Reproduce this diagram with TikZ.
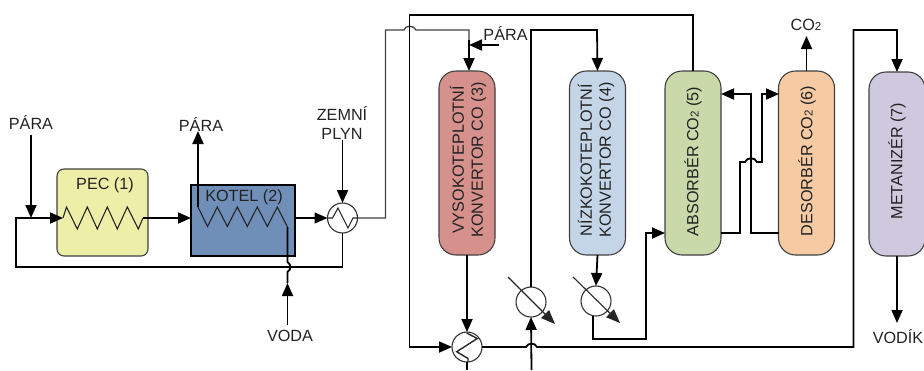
\documentclass[tikz,border=0pt]{standalone}
\usepackage{fontspec}
\setmainfont{Liberation Sans}
\usetikzlibrary{arrows.meta,calc}
\definecolor{txtc}{HTML}{222222}
\definecolor{pecc}{HTML}{EDEFA8}
\definecolor{kotc}{HTML}{6F8FB8}
\definecolor{v3c}{HTML}{D6918D}
\definecolor{v4c}{HTML}{C5D5E8}
\definecolor{v5c}{HTML}{C9D9A9}
\definecolor{v6c}{HTML}{F6CAA3}
\definecolor{v7c}{HTML}{CFC9DF}
\tikzset{
  flow/.style={line width=1.8pt,black,line join=miter},
  thinflow/.style={line width=1.3pt,black!75},
  arr/.style={-{Triangle[length=13pt,width=11pt]}},
  vessel/.style={draw=black!75,line width=1.1pt,rounded corners=17pt,minimum width=56pt,minimum height=184pt,inner sep=0pt,outer sep=0pt},
  hx/.style={circle,draw=black!80,fill=white,line width=1.1pt,minimum size=30pt,inner sep=0pt,outer sep=0pt},
  coil/.style={line width=1.1pt,black!85,line join=miter},
  lbl/.style={text=txtc,font=\fontsize{16.2}{19}\selectfont,inner sep=0pt,align=center},
  vlbl/.style={lbl,rotate=90},
}
\newcommand{\cotwo}{CO\raisebox{-0.3pt}{\fontsize{11.5}{11.5}\selectfont 2}}
\begin{document}
\begin{tikzpicture}[x=1pt,y=-1pt]
\useasboundingbox (0,0) rectangle (924,370);
\clip (0,0) rectangle (924,370);
% equipment
\node[draw=black!75,fill=pecc,line width=1.1pt,rounded corners=7pt,minimum width=91pt,minimum height=87pt,inner sep=0pt,outer sep=0pt] (pec) at (102.5,212.5) {};
\node[draw=black,fill=kotc,line width=1.8pt,minimum width=104pt,minimum height=71pt,inner sep=0pt,outer sep=0pt] (kotel) at (243,220.5) {};
\node[vessel,fill=v3c] (v3) at (467,163) {};
\node[vessel,fill=v4c] (v4) at (597.5,163) {};
\node[vessel,fill=v5c] (v5) at (693,163) {};
\node[vessel,fill=v6c] (v6) at (806.5,163) {};
\node[vessel,fill=v7c] (v7) at (897,164) {};
\node[hx] (hx1) at (342.5,218) {};
\node[hx] (hx3) at (467,347) {};
\node[hx] (hx2) at (531,302) {};
\node[hx] (hx4) at (596,301) {};
% labels
\node[lbl] (tpec) at (105,185) {PEC (1)};
\node[lbl] (tkot) at (244,197) {KOTEL (2)};
\node[vlbl] (t3) at (468,160) {VYSOKOTEPLOTNÍ\\KONVERTOR CO (3)};
\node[vlbl] (t4) at (596,160) {NÍZKOKOTEPLOTNÍ\\KONVERTOR CO (4)};
\node[vlbl] (t5) at (693,161.5) {ABSORBÉR \cotwo{} (5)};
\node[vlbl] (t6) at (807,161) {DESORBÉR \cotwo{} (6)};
\node[vlbl] (t7) at (897,161) {METANIZÉR (7)};
\node[lbl] (para1) at (31,122) {PÁRA};
\node[lbl] (para2) at (201,124) {PÁRA};
\node[lbl] (para3) at (505.5,33) {PÁRA};
\node[lbl] (zemni) at (342,123) {ZEMNÍ\\PLYN};
\node[lbl] (voda) at (290,336) {VODA};
\node[lbl] (co2) at (806,25) {\cotwo};
\node[lbl] (vodik) at (898,336.5) {VODÍK};
% named free ends and joins
\coordinate (p1s) at (31,135);
\coordinate (loopj) at (31,218);
\coordinate (kin) at (198,207);
\coordinate (kout) at (287.5,227);
\coordinate (vodas) at (287.5,325);
\coordinate (parajoin) at (469,45);
\coordinate (paras) at (499,45);
\coordinate (hx4o) at (593,316);
\coordinate (v5in) at (665,233);
\coordinate (v5out) at (721,233);
\coordinate (v6out) at (779,233);
\coordinate (v5r) at (721,94);
\coordinate (v6l) at (779,94);
\coordinate (bot2) at (531.5,370);
\coordinate (bot3) at (467,370);
\coordinate (pecl) at (63,218);
\coordinate (pecr) at (143,218);
% coils
\draw[coil] (pecl) -- (66.5,207) -- (77.3,229) -- (87.3,207) -- (97.3,229) -- (107.3,207) -- (117.3,229) -- (127.3,207) -- (138.3,229) -- (pecr);
\draw[coil] (kin) -- (207.5,226.5) -- (217.3,207) -- (227.3,226.5) -- (237.3,207) -- (247.3,226.5) -- (257.3,207) -- (267.3,226.5) -- (277.3,207) -- (kout);
\draw[coil] (hx1.west) -- (332.5,218) -- (338,208) -- (348,228) -- (353,218) -- (hx1.east);
% left section connectors
\draw[flow,arr] (p1s) -- (loopj);
\draw[flow,arr] (hx1.south) -- (342.5,267) -- (16,267) -- (16,218) -- (pecl);
\draw[flow,arr] (pecr) -- (kotel.west |- pecr);
\draw[thinflow,black,arr] (kotel.east |- hx1) -- (hx1.west);
\draw[flow,arr] (kin) -- (198,133) -- (198,131);
\draw[flow,arr] (zemni.south -| hx1) -- (hx1.north);
\draw[flow,arr] (vodas) -- (287.5,283);
\draw[flow] (287.5,283) -- (287.5,272) .. controls (291.5,269) and (291.5,265) .. (287.5,262) -- (kout);
% gas to HT convertor
\draw[thinflow] (hx1.east) -- (385.5,218) -- (385.5,30) -- (404,30) .. controls (405,25) and (414,25) .. (416,30) -- (469,30) -- (469,50);
\draw[flow,arr] (469,40) -- (v3.north -| 469,0);
\draw[flow,arr] (paras) -- (parajoin);
% HT convertor to exchanger
\draw[flow,arr] (v3.south) -- (hx3.north);
\draw[flow] (hx3.south) -- (bot3);
% top return loop
\draw[flow,arr] (v5.north) -- (693,15) -- (409.5,15) -- (409.5,347) -- (hx3.west);
% LT convertor feed
\draw[flow,arr] (hx2.north) -- (531,30) -- (597,30) -- (v4.north);
\draw[flow,arr] (bot2) -- (hx2.south);
% diagonal arrows
\draw[coil,-{Triangle[length=14pt,width=11pt]}] ($(hx2)+(-23,-25)$) -- ($(hx2)+(24,22)$);
\draw[coil,-{Triangle[length=14pt,width=11pt]}] ($(hx4)+(-23,-24)$) -- ($(hx4)+(24,22)$);
% LT convertor to absorber
\draw[flow,arr] (v4.south) -- (hx4.north);
\draw[flow,arr] (hx4o) -- (593,339) -- (646,339) -- (646,233) -- (v5in);
% absorber / desorber
\draw[flow,arr] (v5out) -- (740,233) -- (740,162) -- (745,162) .. controls (747,157) and (755,157) .. (757,162) -- (762,162) -- (762,94) -- (v6l);
\draw[flow,arr] (v6out) -- (751,233) -- (751,94) -- (v5r);
\draw[flow,arr] (v6.north) -- (806.5,36);
% to methanizer
\draw[flow,arr] (hx3.east) -- (526,347) .. controls (528,342.5) and (535,342.5) .. (537,347) -- (853.5,347) -- (853.5,30) -- (897,30) -- (897,72);
\draw[flow,arr] (897,256) -- (897,323);
% exchanger coil on top of the arrows
\draw[coil,line width=1.4pt] (466.7,333) -- (477.3,338.5) -- (456.7,351.7) -- (468,358.5) -- (468,362);
\end{tikzpicture}
\end{document}
